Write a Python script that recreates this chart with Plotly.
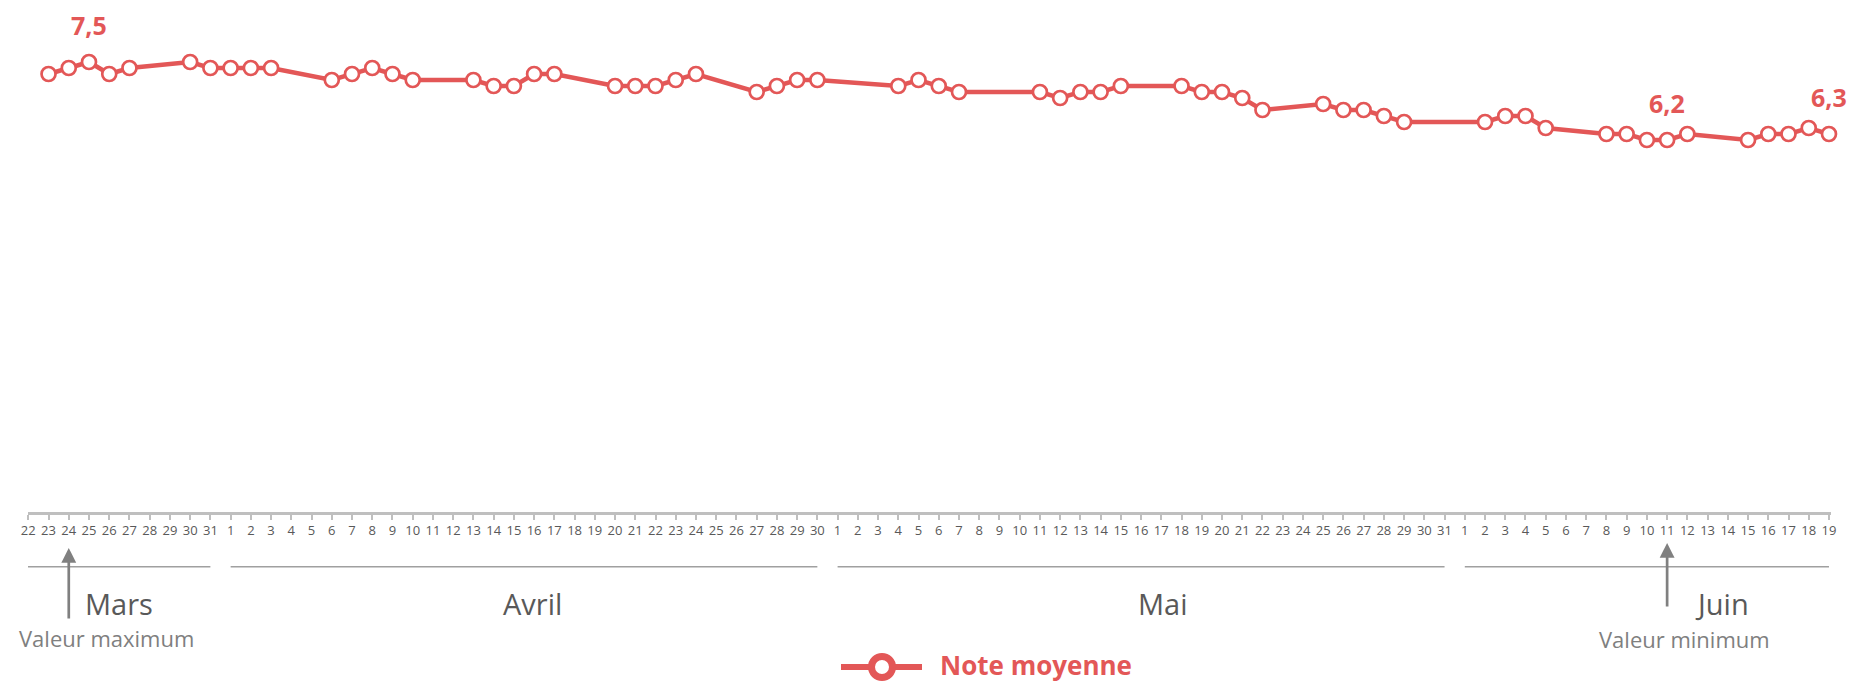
import pandas as pd
import plotly.graph_objects as go

# ---------------- data ----------------
axis_start = "2020-03-22"
axis_end = "2020-06-19"
month_names = ["Mars", "Avril", "Mai", "Juin"]
series_name = "Note moyenne"

dates = [
    "2020-03-23", "2020-03-24", "2020-03-25", "2020-03-26", "2020-03-27",
    "2020-03-30", "2020-03-31",
    "2020-04-01", "2020-04-02", "2020-04-03",
    "2020-04-06", "2020-04-07", "2020-04-08", "2020-04-09", "2020-04-10",
    "2020-04-13", "2020-04-14", "2020-04-15", "2020-04-16", "2020-04-17",
    "2020-04-20", "2020-04-21", "2020-04-22", "2020-04-23", "2020-04-24",
    "2020-04-27", "2020-04-28", "2020-04-29", "2020-04-30",
    "2020-05-04", "2020-05-05", "2020-05-06", "2020-05-07",
    "2020-05-11", "2020-05-12", "2020-05-13", "2020-05-14", "2020-05-15",
    "2020-05-18", "2020-05-19", "2020-05-20", "2020-05-21", "2020-05-22",
    "2020-05-25", "2020-05-26", "2020-05-27", "2020-05-28", "2020-05-29",
    "2020-06-02", "2020-06-03", "2020-06-04", "2020-06-05",
    "2020-06-08", "2020-06-09", "2020-06-10", "2020-06-11", "2020-06-12",
    "2020-06-15", "2020-06-16", "2020-06-17", "2020-06-18", "2020-06-19",
]
note_moyenne = [
    7.3, 7.4, 7.5, 7.3, 7.4,
    7.5, 7.4,
    7.4, 7.4, 7.4,
    7.2, 7.3, 7.4, 7.3, 7.2,
    7.2, 7.1, 7.1, 7.3, 7.3,
    7.1, 7.1, 7.1, 7.2, 7.3,
    7.0, 7.1, 7.2, 7.2,
    7.1, 7.2, 7.1, 7.0,
    7.0, 6.9, 7.0, 7.0, 7.1,
    7.1, 7.0, 7.0, 6.9, 6.7,
    6.8, 6.7, 6.7, 6.6, 6.5,
    6.5, 6.6, 6.6, 6.4,
    6.3, 6.3, 6.2, 6.2, 6.3,
    6.2, 6.3, 6.3, 6.4, 6.3,
]
labelled_dates = ["2020-03-25", "2020-06-11", "2020-06-19"]
max_arrow_date = "2020-03-24"
min_arrow_date = "2020-06-11"
max_text = "Valeur maximum"
min_text = "Valeur minimum"

# ---------------- styles / layout constants ----------------
W, H = 1854, 684
PL, PR, PT, PB = 28, 1831, 32, 512
RED = "#E35757"
AXIS_GREY = "#BFBFBF"
TEXT_DARK = "#595959"
TEXT_MID = "#7F7F7F"
FONT = "Open Sans"

start = pd.Timestamp(axis_start)
all_days = pd.date_range(axis_start, axis_end, freq="D")
tick_vals = list(range(len(all_days)))
tick_text = [str(d.day) for d in all_days]


def idx(d):
    return (pd.Timestamp(d) - start).days


def yp(py):
    return (PB - py) / (PB - PT)


def xp(px):
    return (px - PL) / (PR - PL)


x_vals = [idx(d) for d in dates]

fig = go.Figure()
fig.add_trace(go.Scatter(
    x=x_vals, y=note_moyenne, mode="lines+markers", name=series_name,
    line=dict(color=RED, width=4.5),
    marker=dict(size=14, color="white", line=dict(color=RED, width=2.7)),
    cliponaxis=False, showlegend=False,
))

annotations = []
shapes = []

# data labels
val_by_date = dict(zip(dates, note_moyenne))
for d in labelled_dates:
    annotations.append(dict(
        x=idx(d), y=val_by_date[d], xref="x", yref="y",
        text=f"{val_by_date[d]:.1f}".replace(".", ","),
        showarrow=False, yshift=37, yanchor="middle",
        font=dict(family=FONT, size=25, color=RED, weight="bold"),
    ))

# month separator lines and labels
month_label_x = [4.5, 24.9, 56.1, 83.7]
for i, m in enumerate(month_names):
    month_idx = [k for k, d in enumerate(all_days) if d.month == all_days[0].month + i]
    shapes.append(dict(
        type="line", xref="x", yref="paper",
        x0=month_idx[0] - (0.15 if i == 0 else 0), x1=month_idx[-1], y0=yp(566.7), y1=yp(566.7),
        line=dict(color="#A0A0A0", width=1.5),
    ))
    annotations.append(dict(
        x=month_label_x[i], y=yp(603.5), xref="x", yref="paper",
        text=m, showarrow=False, yanchor="middle", xanchor="center",
        font=dict(family=FONT, size=29, color=TEXT_DARK),
    ))

# arrows
for d, tip, tail in [(max_arrow_date, 548, 620), (min_arrow_date, 543, 608)]:
    annotations.append(dict(
        x=idx(d), y=yp(tip), xref="x", yref="paper",
        ax=0, ay=tail - tip, text="", showarrow=True,
        arrowhead=2, arrowsize=1.1, arrowwidth=2.7, arrowcolor="#808080",
    ))
annotations.append(dict(
    x=xp(106), y=yp(637.5), xref="paper", yref="paper", text=max_text,
    showarrow=False, xanchor="center", yanchor="middle",
    font=dict(family=FONT, size=22, color=TEXT_MID),
))
annotations.append(dict(
    x=xp(1684), y=yp(639), xref="paper", yref="paper", text=min_text,
    showarrow=False, xanchor="center", yanchor="middle",
    font=dict(family=FONT, size=22, color=TEXT_MID),
))

# legend (drawn)
LY = 667
shapes.append(dict(type="line", xref="paper", yref="paper",
                   x0=xp(841), x1=xp(922), y0=yp(LY), y1=yp(LY),
                   line=dict(color=RED, width=6)))
r = 10.5
shapes.append(dict(type="circle", xref="paper", yref="paper",
                   x0=xp(882 - r), x1=xp(882 + r), y0=yp(LY + r), y1=yp(LY - r),
                   fillcolor="white", line=dict(color=RED, width=7)))
annotations.append(dict(
    x=xp(938), y=yp(665), xref="paper", yref="paper", text=series_name,
    showarrow=False, xanchor="left", yanchor="middle",
    font=dict(family=FONT, size=26, color=RED, weight="bold"),
))

fig.update_layout(
    width=W, height=H,
    margin=dict(l=PL, r=W - PR, t=PT, b=H - PB, pad=0),
    paper_bgcolor="white", plot_bgcolor="white",
    showlegend=False,
    annotations=annotations, shapes=shapes,
    xaxis=dict(
        range=[-0.015, 89.1], tickmode="array", tickvals=tick_vals, ticktext=tick_text,
        showgrid=False, zeroline=False, showline=True, linecolor=AXIS_GREY, linewidth=2.5,
        ticks="outside", ticklen=5, tickwidth=2, tickcolor=AXIS_GREY,
        tickfont=dict(family=FONT, size=13, color=TEXT_DARK), tickangle=0,
        fixedrange=True,
    ),
    yaxis=dict(range=[0, 8], visible=False, fixedrange=True),
)

fig.write_html(
    "out.html",
    config={"displayModeBar": False},
    post_script="document.body.style.margin='0';document.body.style.overflow='hidden';",
)
